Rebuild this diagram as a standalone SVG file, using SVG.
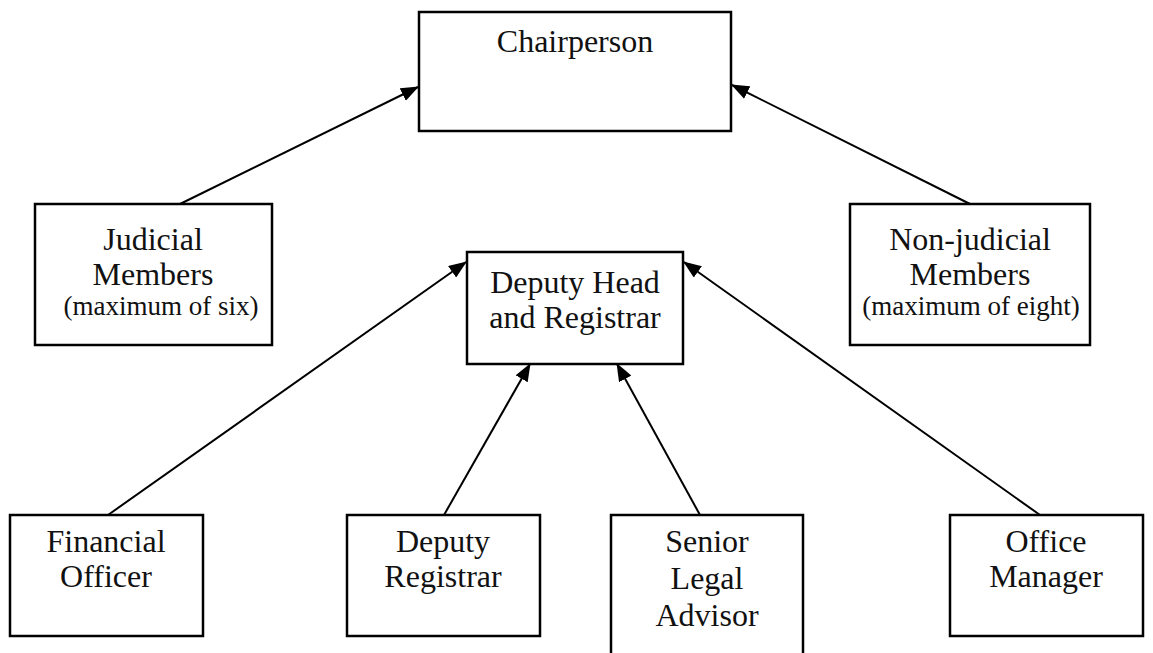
<svg xmlns="http://www.w3.org/2000/svg" width="1153" height="653" viewBox="0 0 1153 653">
<style>
.box{fill:#fff;stroke:#000;stroke-width:2.5}
.t{font-family:"Liberation Serif","Times New Roman",serif;font-size:32px;fill:#111;text-anchor:middle}
.s{font-size:27px}
.c{stroke:#000;stroke-width:2;fill:none;marker-end:url(#ah)}
</style>
<defs>
<marker id="ah" markerUnits="userSpaceOnUse" markerWidth="18" markerHeight="14" refX="17" refY="7" orient="auto">
<path d="M0,0 L18,7 L0,14 Z" fill="#000"/>
</marker>
</defs>
<rect width="1153" height="653" fill="#fff"/>
<g id="connectors">
<line class="c" x1="180" y1="204" x2="418" y2="87"/>
<line class="c" x1="970" y1="204" x2="732" y2="85"/>
<line class="c" x1="108" y1="515" x2="466" y2="262"/>
<line class="c" x1="444" y1="515" x2="530" y2="364"/>
<line class="c" x1="700" y1="515" x2="617" y2="364"/>
<line class="c" x1="1040" y1="515" x2="684" y2="262"/>
</g>
<g id="chair">
<rect class="box" x="419" y="12" width="312" height="119"/>
<text class="t" x="575" y="52">Chairperson</text>
</g>
<g id="judicial">
<rect class="box" x="35" y="204" width="237" height="141"/>
<text class="t" x="153" y="250">Judicial</text>
<text class="t" x="153" y="285">Members</text>
<text class="t s" x="161" y="315">(maximum of six)</text>
</g>
<g id="nonjudicial">
<rect class="box" x="850" y="204" width="240" height="141"/>
<text class="t" x="970" y="250">Non-judicial</text>
<text class="t" x="970" y="285">Members</text>
<text class="t s" x="971" y="315">(maximum of eight)</text>
</g>
<g id="deputyhead">
<rect class="box" x="467" y="252" width="216" height="112"/>
<text class="t" x="575" y="293">Deputy Head</text>
<text class="t" x="575" y="328">and Registrar</text>
</g>
<g id="financial">
<rect class="box" x="10" y="515" width="193" height="121"/>
<text class="t" x="106" y="552">Financial</text>
<text class="t" x="106" y="587">Officer</text>
</g>
<g id="deputyreg">
<rect class="box" x="347" y="515" width="193" height="121"/>
<text class="t" x="443" y="552">Deputy</text>
<text class="t" x="443" y="587">Registrar</text>
</g>
<g id="seniorlegal">
<rect class="box" x="611" y="515" width="192" height="150"/>
<text class="t" x="707" y="552">Senior</text>
<text class="t" x="707" y="589">Legal</text>
<text class="t" x="707" y="626">Advisor</text>
</g>
<g id="officemgr">
<rect class="box" x="950" y="515" width="193" height="121"/>
<text class="t" x="1046" y="552">Office</text>
<text class="t" x="1046" y="587">Manager</text>
</g>
</svg>
